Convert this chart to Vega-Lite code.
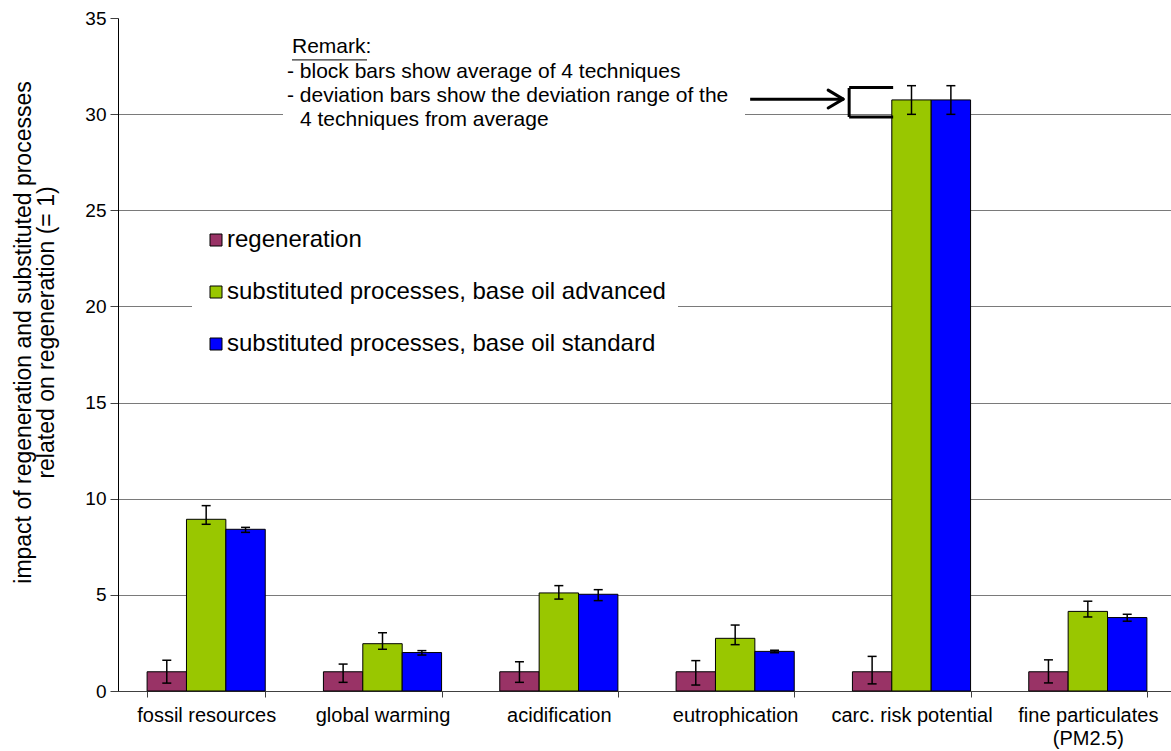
{
  "$schema": "https://vega.github.io/schema/vega-lite/v6.json",
  "width": 1058,
  "height": 673,
  "autosize": {"type": "none"},
  "padding": {"left": 118, "top": 18, "right": 0, "bottom": 60},
  "background": "white",
  "config": {
    "font": "Liberation Sans",
    "view": {"stroke": null},
    "axis": {"labelColor": "black", "titleColor": "black", "labelFont": "Liberation Sans", "titleFont": "Liberation Sans"},
    "legend": {"labelFont": "Liberation Sans"}
  },
  "datasets": {
    "bars": [
      {"cat": "fossil resources", "series": "regeneration", "value": 1, "lo": 0.41, "hi": 1.6},
      {"cat": "fossil resources", "series": "substituted processes, base oil advanced", "value": 8.93, "lo": 8.67, "hi": 9.64},
      {"cat": "fossil resources", "series": "substituted processes, base oil standard", "value": 8.41, "lo": 8.25, "hi": 8.51},
      {"cat": "global warming", "series": "regeneration", "value": 1, "lo": 0.45, "hi": 1.4},
      {"cat": "global warming", "series": "substituted processes, base oil advanced", "value": 2.46, "lo": 2.17, "hi": 3.03},
      {"cat": "global warming", "series": "substituted processes, base oil standard", "value": 2.0, "lo": 1.87, "hi": 2.1},
      {"cat": "acidification", "series": "regeneration", "value": 1, "lo": 0.45, "hi": 1.52},
      {"cat": "acidification", "series": "substituted processes, base oil advanced", "value": 5.1, "lo": 4.78, "hi": 5.48},
      {"cat": "acidification", "series": "substituted processes, base oil standard", "value": 5.03, "lo": 4.7, "hi": 5.27},
      {"cat": "eutrophication", "series": "regeneration", "value": 1, "lo": 0.31, "hi": 1.58},
      {"cat": "eutrophication", "series": "substituted processes, base oil advanced", "value": 2.74, "lo": 2.41, "hi": 3.43},
      {"cat": "eutrophication", "series": "substituted processes, base oil standard", "value": 2.06, "lo": 1.99, "hi": 2.12},
      {"cat": "carc. risk potential", "series": "regeneration", "value": 1, "lo": 0.37, "hi": 1.8},
      {"cat": "carc. risk potential", "series": "substituted processes, base oil advanced", "value": 30.74, "lo": 29.99, "hi": 31.48},
      {"cat": "carc. risk potential", "series": "substituted processes, base oil standard", "value": 30.74, "lo": 29.99, "hi": 31.48},
      {"cat": "fine particulates (PM2.5)", "series": "regeneration", "value": 1, "lo": 0.42, "hi": 1.62},
      {"cat": "fine particulates (PM2.5)", "series": "substituted processes, base oil advanced", "value": 4.14, "lo": 3.85, "hi": 4.67},
      {"cat": "fine particulates (PM2.5)", "series": "substituted processes, base oil standard", "value": 3.82, "lo": 3.63, "hi": 3.99}
    ]
  },
  "layer": [
    {
      "data": {"name": "bars"},
      "mark": {"type": "bar", "stroke": "black", "strokeWidth": 1},
      "encoding": {
        "x": {
          "field": "cat", "type": "nominal",
          "scale": {"domain": ["fossil resources", "global warming", "acidification", "eutrophication", "carc. risk potential", "fine particulates (PM2.5)"], "paddingInner": 0.33, "paddingOuter": 0.165},
          "axis": {
            "title": null, "labelAngle": 0, "labelFontSize": 20, "labelPadding": 8,
            "labelLineHeight": 23, "labelBaseline": "top",
            "labelExpr": "datum.label == 'fine particulates (PM2.5)' ? ['fine particulates', '(PM2.5)'] : datum.label",
            "tickBand": "extent", "tickSize": 6, "tickColor": "#404040", "domainColor": "#404040", "grid": false
          }
        },
        "xOffset": {"field": "series", "type": "nominal", "sort": ["regeneration", "substituted processes, base oil advanced", "substituted processes, base oil standard"], "scale": {"paddingInner": 0, "paddingOuter": 0}},
        "y": {
          "field": "value", "type": "quantitative",
          "scale": {"domain": [0, 35], "nice": false, "zero": true},
          "axis": {
            "title": ["impact of  regeneration and substituted processes", "related on regeneration (= 1)"],
            "titleFontSize": 23, "titleFontWeight": "normal", "titlePadding": 26, "titleLineHeight": 23, "titleY": 314,
            "values": [0, 5, 10, 15, 20, 25, 30, 35],
            "labelFontSize": 19, "labelPadding": 4, "tickSize": 8, "tickColor": "#404040", "domainColor": "black",
            "grid": true, "gridColor": "#7a7a7a",
            "gridOpacity": {"condition": {"test": "datum.value >= 35 || datum.value == 0", "value": 0}, "value": 1}
          }
        },
        "color": {
          "field": "series", "type": "nominal",
          "sort": ["regeneration", "substituted processes, base oil advanced", "substituted processes, base oil standard"],
          "scale": {"range": ["#993366", "#99C700", "#0000FF"]},
          "legend": {
            "title": null, "orient": "none", "legendX": 74, "legendY": 198,
            "fillColor": "white", "padding": 12, "symbolType": "square", "symbolSize": 144,
            "symbolStrokeColor": "black", "symbolStrokeWidth": 1, "symbolOpacity": 1,
            "labelFontSize": 24, "labelColor": "black", "labelOffset": -1, "rowPadding": 28, "labelLimit": 700
          }
        }
      }
    },
    {
      "data": {"name": "bars"},
      "mark": {"type": "rule", "color": "black", "strokeWidth": 1.5},
      "encoding": {
        "x": {"field": "cat", "type": "nominal"},
        "xOffset": {"field": "series", "type": "nominal", "sort": ["regeneration", "substituted processes, base oil advanced", "substituted processes, base oil standard"]},
        "y": {"field": "lo", "type": "quantitative"},
        "y2": {"field": "hi"}
      }
    },
    {
      "data": {"name": "bars"},
      "mark": {"type": "tick", "color": "black", "orient": "horizontal", "size": 9, "thickness": 1.5, "opacity": 1},
      "encoding": {
        "x": {"field": "cat", "type": "nominal"},
        "xOffset": {"field": "series", "type": "nominal", "sort": ["regeneration", "substituted processes, base oil advanced", "substituted processes, base oil standard"]},
        "y": {"field": "lo", "type": "quantitative"}
      }
    },
    {
      "data": {"name": "bars"},
      "mark": {"type": "tick", "color": "black", "orient": "horizontal", "size": 9, "thickness": 1.5, "opacity": 1},
      "encoding": {
        "x": {"field": "cat", "type": "nominal"},
        "xOffset": {"field": "series", "type": "nominal", "sort": ["regeneration", "substituted processes, base oil advanced", "substituted processes, base oil standard"]},
        "y": {"field": "hi", "type": "quantitative"}
      }
    },
    {
      "data": {"values": [{}]},
      "mark": {"type": "rect", "color": "white", "xOffset": -99.5, "x2Offset": 362.5},
      "encoding": {
        "x": {"datum": "global warming", "type": "nominal"},
        "x2": {"datum": "global warming"},
        "y": {"datum": 28.95, "type": "quantitative"},
        "y2": {"datum": 34.4}
      }
    },
    {
      "data": {"values": [{}]},
      "mark": {"type": "text", "text": "Remark:", "align": "left", "baseline": "middle", "fontSize": 21, "color": "black", "dx": -90.5},
      "encoding": {"x": {"datum": "global warming", "type": "nominal"}, "y": {"datum": 33.49, "type": "quantitative"}}
    },
    {
      "data": {"values": [{}]},
      "mark": {"type": "text", "text": "- block bars show average of 4 techniques", "align": "left", "baseline": "middle", "fontSize": 21, "color": "black", "dx": -95.5},
      "encoding": {"x": {"datum": "global warming", "type": "nominal"}, "y": {"datum": 32.19, "type": "quantitative"}}
    },
    {
      "data": {"values": [{}]},
      "mark": {"type": "text", "text": "- deviation bars show the deviation range of the", "align": "left", "baseline": "middle", "fontSize": 21, "color": "black", "dx": -95.5},
      "encoding": {"x": {"datum": "global warming", "type": "nominal"}, "y": {"datum": 30.94, "type": "quantitative"}}
    },
    {
      "data": {"values": [{}]},
      "mark": {"type": "text", "text": "4 techniques from average", "align": "left", "baseline": "middle", "fontSize": 21, "color": "black", "dx": -82.5},
      "encoding": {"x": {"datum": "global warming", "type": "nominal"}, "y": {"datum": 29.69, "type": "quantitative"}}
    },
    {
      "data": {"values": [{}]},
      "mark": {"type": "rule", "color": "black", "strokeWidth": 1, "xOffset": -90.5, "x2Offset": -15.5},
      "encoding": {"x": {"datum": "global warming", "type": "nominal"}, "x2": {"datum": "global warming"}, "y": {"datum": 32.82, "type": "quantitative"}}
    },
    {
      "data": {"values": [{}]},
      "mark": {"type": "rule", "color": "black", "strokeWidth": 3, "xOffset": -161.35, "x2Offset": -70},
      "encoding": {"x": {"datum": "carc. risk potential", "type": "nominal"}, "x2": {"datum": "carc. risk potential"}, "y": {"datum": 30.78, "type": "quantitative"}}
    },
    {
      "data": {"values": [{}]},
      "mark": {"type": "rule", "color": "black", "strokeWidth": 3, "strokeCap": "round", "xOffset": -83.35, "x2Offset": -68.35},
      "encoding": {"x": {"datum": "carc. risk potential", "type": "nominal"}, "x2": {"datum": "carc. risk potential"}, "y": {"datum": 31.25, "type": "quantitative"}, "y2": {"datum": 30.78}}
    },
    {
      "data": {"values": [{}]},
      "mark": {"type": "rule", "color": "black", "strokeWidth": 3, "strokeCap": "round", "xOffset": -83.35, "x2Offset": -68.35},
      "encoding": {"x": {"datum": "carc. risk potential", "type": "nominal"}, "x2": {"datum": "carc. risk potential"}, "y": {"datum": 30.32, "type": "quantitative"}, "y2": {"datum": 30.78}}
    },
    {
      "data": {"values": [{}]},
      "mark": {"type": "rule", "color": "black", "strokeWidth": 3, "xOffset": -62.35},
      "encoding": {"x": {"datum": "carc. risk potential", "type": "nominal"}, "y": {"datum": 31.36, "type": "quantitative"}, "y2": {"datum": 29.85}}
    },
    {
      "data": {"values": [{}]},
      "mark": {"type": "rule", "color": "black", "strokeWidth": 3, "xOffset": -62.35, "x2Offset": -18.35},
      "encoding": {"x": {"datum": "carc. risk potential", "type": "nominal"}, "x2": {"datum": "carc. risk potential"}, "y": {"datum": 31.39, "type": "quantitative"}}
    },
    {
      "data": {"values": [{}]},
      "mark": {"type": "rule", "color": "black", "strokeWidth": 3, "xOffset": -62.35, "x2Offset": -18.35},
      "encoding": {"x": {"datum": "carc. risk potential", "type": "nominal"}, "x2": {"datum": "carc. risk potential"}, "y": {"datum": 29.85, "type": "quantitative"}}
    }
  ]
}
